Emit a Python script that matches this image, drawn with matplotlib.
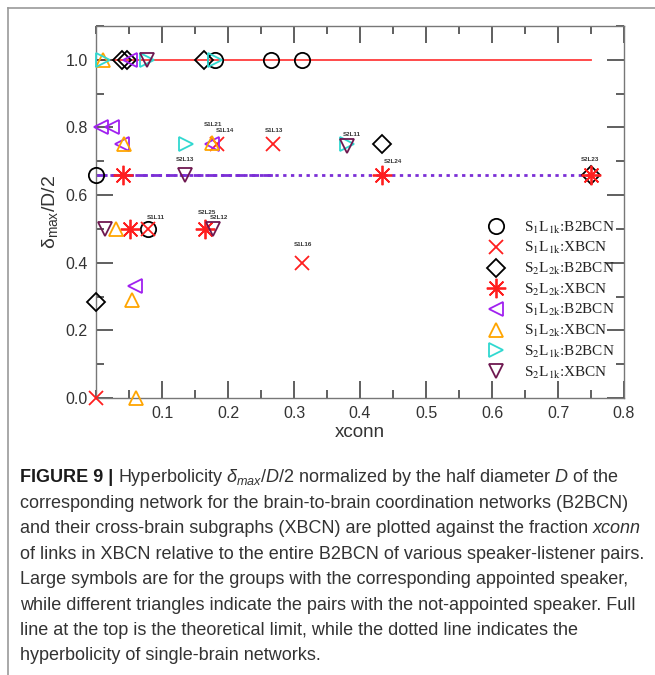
import matplotlib
matplotlib.use("Agg")
import matplotlib.pyplot as plt
from matplotlib.lines import Line2D
from matplotlib.ticker import MultipleLocator

plt.rcParams['font.family'] = ['Liberation Sans', 'DejaVu Sans']
plt.rcParams['mathtext.fontset'] = 'custom'
plt.rcParams['mathtext.rm'] = 'Liberation Sans'
plt.rcParams['mathtext.it'] = 'Liberation Sans:italic'
plt.rcParams['mathtext.bf'] = 'Liberation Sans:bold'

# --- data (x = xconn, y = delta_max/(D/2)) ---
s1l1k_b2_x = [0.0, 0.079, 0.18, 0.265, 0.312]
s1l1k_b2_y = [0.66, 0.50, 1.0, 1.0, 1.0]

s1l1k_x_x = [0.0, 0.079, 0.183, 0.268, 0.312]
s1l1k_x_y = [0.0, 0.50, 0.75, 0.75, 0.40]

s2l2k_b2_x = [0.0, 0.039, 0.047, 0.163, 0.433, 0.75]
s2l2k_b2_y = [0.285, 1.0, 1.0, 1.0, 0.75, 0.66]

s2l2k_x_x = [0.041, 0.052, 0.165, 0.433, 0.75]
s2l2k_x_y = [0.66, 0.50, 0.50, 0.66, 0.66]

s1l2k_b2_x = [0.008, 0.024, 0.052, 0.04, 0.175, 0.059]
s1l2k_b2_y = [0.80, 0.80, 1.0, 0.75, 0.75, 0.33]

s1l2k_x_x = [0.01, 0.042, 0.175, 0.03, 0.054, 0.06]
s1l2k_x_y = [1.0, 0.75, 0.755, 0.50, 0.29, 0.0]

s2l1k_b2_x = [0.01, 0.078, 0.18, 0.136, 0.38]
s2l1k_b2_y = [1.0, 1.0, 1.0, 0.75, 0.75]

s2l1k_x_x = [0.078, 0.135, 0.014, 0.178, 0.38]
s2l1k_x_y = [1.0, 0.66, 0.50, 0.50, 0.745]

limit_y = 1.0
single_brain_y = 0.66
line_end_x = 0.75
dashed_end_x = 0.27

pair_labels = ['S1L21', 'S1L14', 'S1L13', 'S2L11', 'S2L13', 'S2L24',
               'S2L23', 'S1L11', 'S2L25', 'S2L12', 'S1L16']
pair_label_x = [0.177, 0.195, 0.27, 0.388, 0.135, 0.45, 0.748, 0.09, 0.168, 0.187, 0.313]
pair_label_y = [0.81, 0.79, 0.79, 0.78, 0.705, 0.70, 0.705, 0.535, 0.55, 0.535, 0.455]

# caption, one list of (text, style) pieces per line
caption_lines = [
    [('FIGURE 9 | ', 'bold'),
     (r"Hyperbolicity $\delta_{max}/D/2$ normalized by the half diameter $D$ of the", 'math')],
    [("corresponding network for the brain-to-brain coordination networks (B2BCN)", 'normal')],
    [("and their cross-brain subgraphs (XBCN) are plotted against the fraction ", 'normal'),
     ("xconn", 'italic')],
    [("of links in XBCN relative to the entire B2BCN of various speaker-listener pairs.", 'normal')],
    [("Large symbols are for the groups with the corresponding appointed speaker,", 'normal')],
    [("while different triangles indicate the pairs with the not-appointed speaker. Full", 'normal')],
    [("line at the top is the theoretical limit, while the dotted line indicates the", 'normal')],
    [("hyperbolicity of single-brain networks.", 'normal')],
]

fig = plt.figure(figsize=(6.55, 6.75), dpi=100)
ax = fig.add_axes([96 / 655, 1 - 398 / 675, 528 / 655, 372 / 675])

# reference lines
ax.plot([0, line_end_x], [limit_y, limit_y], color='#ff3b3b', lw=1.3, zorder=1)
ax.plot([0, line_end_x], [single_brain_y, single_brain_y], color='#7b2fd6',
        lw=2, ls=(0, (1.2, 1.6)), zorder=1)
ax.plot([0, dashed_end_x], [single_brain_y, single_brain_y], color='#7b2fd6',
        lw=2, ls=(0, (3.5, 1.5)), zorder=1)

series = [
    (s1l1k_b2_x, s1l1k_b2_y, 'o', 'black', 11, r'S$_1$L$_{\mathrm{1k}}$:B2BCN'),
    (s1l1k_x_x, s1l1k_x_y, 'x', '#ff1f1f', 10, r'S$_1$L$_{\mathrm{1k}}$:XBCN'),
    (s2l2k_b2_x, s2l2k_b2_y, 'D', 'black', 9.5, r'S$_2$L$_{\mathrm{2k}}$:B2BCN'),
    (s2l2k_x_x, s2l2k_x_y, (8, 2, 0), '#ff1f1f', 14, r'S$_2$L$_{\mathrm{2k}}$:XBCN'),
    (s1l2k_b2_x, s1l2k_b2_y, '<', '#a020f0', 10, r'S$_1$L$_{\mathrm{2k}}$:B2BCN'),
    (s1l2k_x_x, s1l2k_x_y, '^', '#ffa500', 10, r'S$_1$L$_{\mathrm{2k}}$:XBCN'),
    (s2l1k_b2_x, s2l1k_b2_y, '>', '#30d8d0', 10, r'S$_2$L$_{\mathrm{1k}}$:B2BCN'),
    (s2l1k_x_x, s2l1k_x_y, 'v', '#6e1850', 10, r'S$_2$L$_{\mathrm{1k}}$:XBCN'),
]
handles = []
for xs, ys, mk, col, size, lab in series:
    ax.plot(xs, ys, ls='none', marker=mk, ms=size, mfc='none', mec=col,
            mew=1.3, clip_on=False, zorder=3)
    handles.append(Line2D([], [], ls='none', marker=mk, ms=size, mfc='none',
                          mec=col, mew=1.3, label=lab))

for t, x, y in zip(pair_labels, pair_label_x, pair_label_y):
    ax.text(x, y, t, fontsize=4.5, fontweight='bold', color='#333333',
            ha='center', va='center')

leg = ax.legend(handles=handles, loc='upper left', bbox_to_anchor=(0.72, 0.50),
                frameon=False, borderpad=0, handlelength=1.6, handletextpad=1.0,
                labelspacing=0.3, prop={'family': 'Liberation Serif', 'size': 11})
for t in leg.get_texts():
    t.set_math_fontfamily('stix')
    t.set_color('#222222')

ax.set_xlim(0, 0.8)
ax.set_ylim(0, 1.1)
ax.xaxis.set_major_locator(MultipleLocator(0.1))
ax.xaxis.set_minor_locator(MultipleLocator(0.05))
ax.yaxis.set_major_locator(MultipleLocator(0.2))
ax.yaxis.set_minor_locator(MultipleLocator(0.1))
ax.tick_params(which='both', direction='in', top=True, right=True,
               color='#444444', width=1.2)
ax.tick_params(which='major', length=12, labelsize=11.5, labelcolor='#333333', pad=6)
ax.tick_params(which='minor', length=6)
ax.set_xticks([0.1, 0.2, 0.3, 0.4, 0.5, 0.6, 0.7, 0.8])
ax.set_xticklabels(['0.1', '0.2', '0.3', '0.4', '0.5', '0.6', '0.7', '0.8'])
ax.set_yticks([0.0, 0.2, 0.4, 0.6, 0.8, 1.0])
ax.set_yticklabels(['0.0', '0.2', '0.4', '0.6', '0.8', '1.0'])
for s in ax.spines.values():
    s.set_color('#777777')
    s.set_linewidth(1.0)

ax.set_xlabel('xconn', fontsize=13.5, color='#333333', labelpad=2)
ax.set_ylabel(r'δ$_{\mathrm{max}}$/D/2', fontsize=14, color='#333333', labelpad=4)

# page frame
fig.add_artist(Line2D([8 / 655, 8 / 655], [0, 1 - 8 / 675], color='#999999', lw=1.2))
fig.add_artist(Line2D([8 / 655, 1], [1 - 8 / 675, 1 - 8 / 675], color='#999999', lw=1.2))

# caption
renderer = fig.canvas.get_renderer()
x0 = 20 / 655
line_h = 25.4 / 675
y0 = 1 - 478 / 675
cap_size = 13
for i, pieces in enumerate(caption_lines):
    tx = x0
    for text, style in pieces:
        kw = dict(fontsize=cap_size, color='#333333', va='center')
        if style == 'bold':
            kw.update(fontweight='bold', color='#1a1a1a')
        elif style == 'italic':
            kw.update(fontstyle='italic')
        elif style == 'math':
            kw.update(math_fontfamily='custom')
        t = fig.text(tx, y0 - i * line_h, text, **kw)
        tx = t.get_window_extent(renderer).x1 / fig.bbox.width

fig.savefig('out.png', dpi=100)
